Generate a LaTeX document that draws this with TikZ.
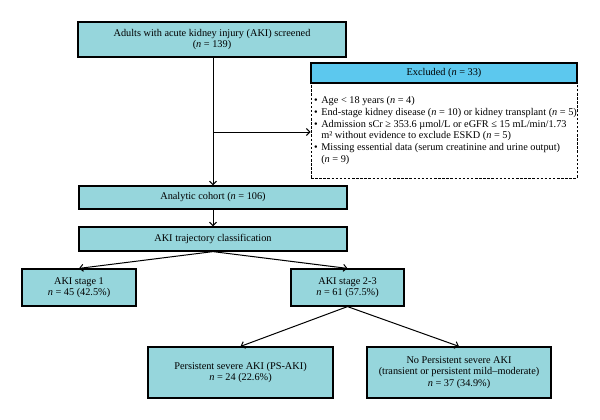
\documentclass[tikz,border=0pt]{standalone}
\usepackage{fontspec}
\setmainfont{Liberation Serif}
\usetikzlibrary{arrows.meta}
\definecolor{boxfill}{RGB}{150,214,220}
\definecolor{headfill}{RGB}{92,200,238}
\begin{document}
\begin{tikzpicture}[x=1pt,y=-1pt,
  font=\fontsize{10.3}{11.3}\selectfont,
  box/.style={draw=black, line width=1.2pt, fill=boxfill, align=center, inner sep=1pt},
  head/.style={draw=black, line width=1.2pt, fill=headfill, align=center, inner sep=1pt},
  dbox/.style={draw=black, line width=1pt, dash pattern=on 2.5pt off 1.6pt},
  arr/.style={draw=black, line width=1pt, -{Straight Barb[length=3.5pt,width=7pt]}},
  ln/.style={draw=black, line width=1pt}]
\useasboundingbox (0,0) rectangle (600,420);
\fill[white] (0,0) rectangle (600,420);

\node[box, minimum width=268pt, minimum height=35pt] (top) at (212,39.5)
  {Adults with acute kidney injury (AKI) screened\\(\textit{n} = 139)};
\node[head, minimum width=266pt, minimum height=20pt] (exhead) at (444,73)
  {Excluded (\textit{n} = 33)};
\node[dbox, minimum width=266pt, minimum height=94pt] (exbody) at (444,131) {};
\node[anchor=north west, align=left, inner sep=0pt, font=\fontsize{10.3}{11.7}\selectfont] (extext) at (314,95.5)
  {\begin{tabular}{@{}l@{\hspace{3.5pt}}l@{}}
   • & Age < 18 years (\textit{n} = 4)\\
   • & End-stage kidney disease (\textit{n} = 10) or kidney transplant (\textit{n} = 5)\\
   • & Admission sCr ≥ 353.6 µmol/L or eGFR ≤ 15 mL/min/1.73\\
     & m² without evidence to exclude ESKD (\textit{n} = 5)\\
   • & Missing essential data (serum creatinine and urine output)\\
     & (\textit{n} = 9)
   \end{tabular}};

\node[box, minimum width=268pt, minimum height=23pt] (coh) at (213,197.5)
  {Analytic cohort (\textit{n} = 106)};
\node[box, minimum width=268pt, minimum height=24pt] (traj) at (213,239)
  {AKI trajectory classification};

\node[box, minimum width=114pt, minimum height=37pt] (s1) at (79,287.5)
  {AKI stage 1\\\textit{n} = 45 (42.5\%)};
\node[box, minimum width=113pt, minimum height=37pt] (s23) at (347.5,287.5)
  {AKI stage 2-3\\\textit{n} = 61 (57.5\%)};

\node[box, minimum width=185pt, minimum height=51pt] (ps) at (240.5,372.5)
  {Persistent severe AKI (PS-AKI)\\\textit{n} = 24 (22.6\%)};
\node[box, minimum width=184pt, minimum height=51pt] (nops) at (459,372.5)
  {No Persistent severe AKI\\(transient or persistent mild–moderate)\\\textit{n} = 37 (34.9\%)};

\coordinate (split) at (213,132);
\draw[arr] (top.south -| split) -- (coh.north -| split);
\draw[arr] (split) -- (split -| exbody.west);
\draw[arr] (coh.south) -- (traj.north);
\draw[arr] (traj.south) -- (s1.north);
\draw[arr] (traj.south) -- (s23.north);
\draw[arr] (s23.south) -- (ps.north);
\draw[arr] (s23.south) -- (nops.north);
\end{tikzpicture}
\end{document}
